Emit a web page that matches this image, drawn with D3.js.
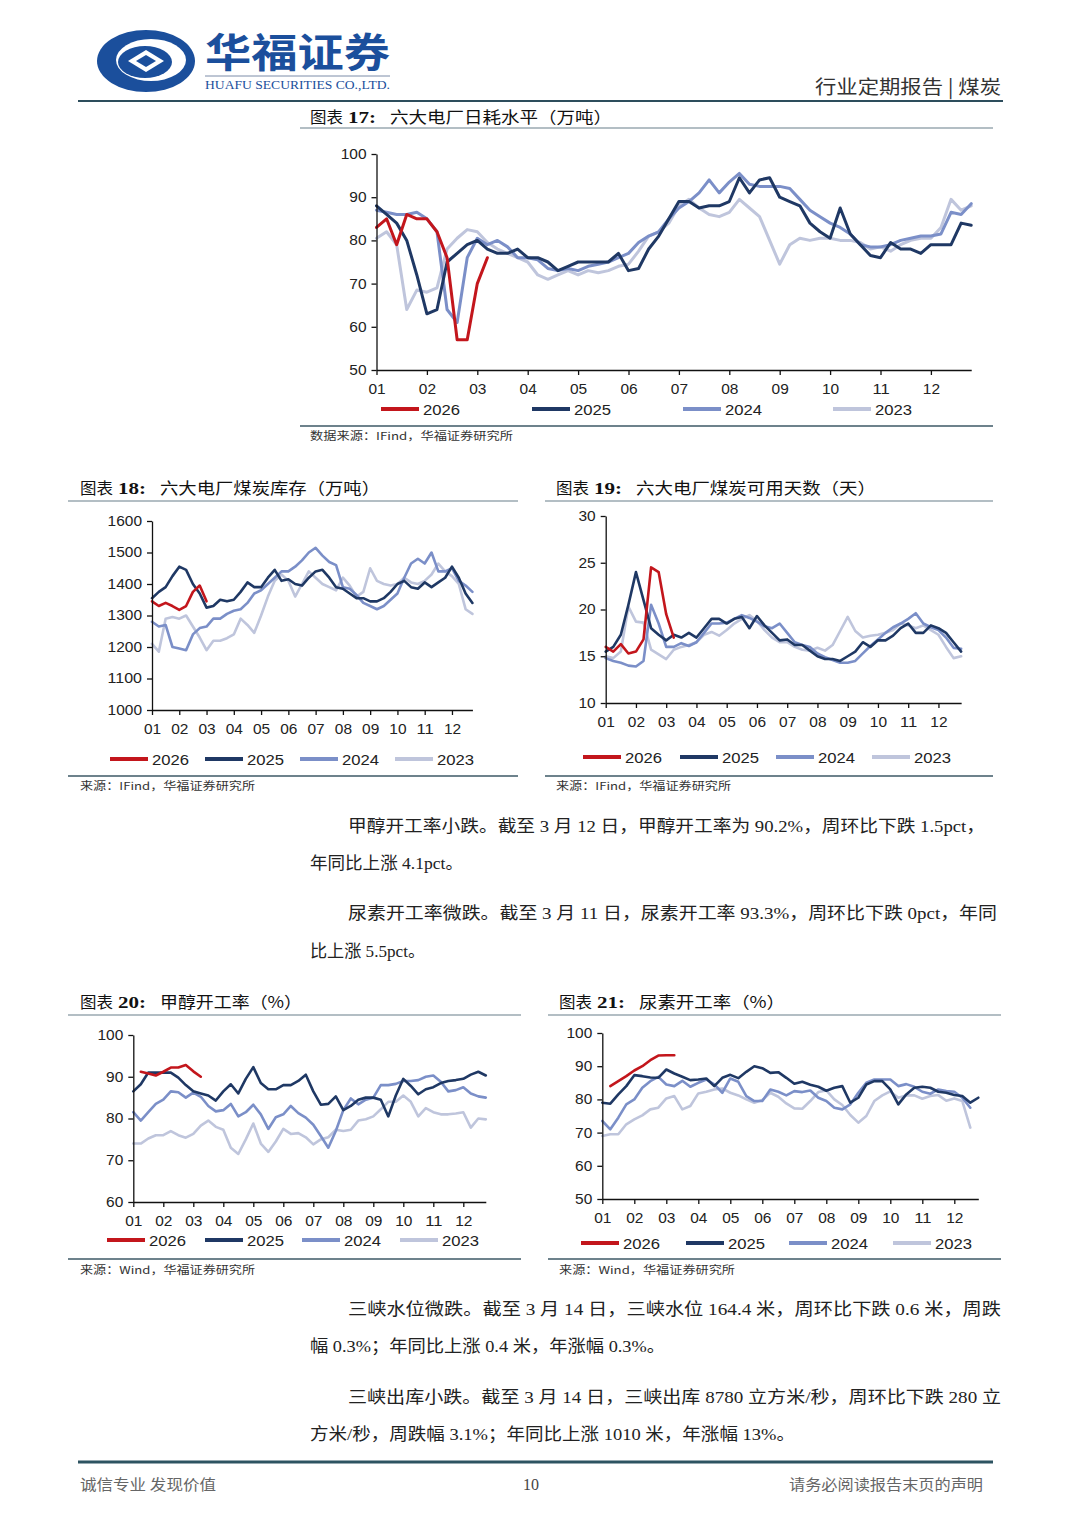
<!DOCTYPE html>
<html>
<head>
<meta charset="utf-8" />
<script src="https://cdn.jsdelivr.net/npm/d3@7"></script>
<style>
  body { margin: 0; background: #fff; }
  svg { display: block; }
</style>
<title>煤炭 行业定期报告</title>
</head>
<body>
<svg id="page" width="1080" height="1527"></svg>
<script>
// ---- data ----
const years = ["2026", "2025", "2024", "2023"];
const monthLabels = ["01", "02", "03", "04", "05", "06", "07", "08", "09", "10", "11", "12"];

// 图表17 六大电厂日耗 (万吨), one value every 0.2 month
const consumeTicks = [50, 60, 70, 80, 90, 100];
const consume2026 = [83, 85, 79, 86, 85, 85, 82, 76, 57, 57, 70, 76];
const consume2025 = [88, 86, 84, 80, 72, 63, 64, 75, 77, 79, 80, 78, 77, 77, 78, 76, 76, 75, 73, 74,
  75, 75, 75, 75, 77, 73, 73.5, 78, 81, 85, 89, 89, 87.5, 88, 88, 89, 94.5, 91, 94, 94.5,
  90, 89, 88, 84, 82, 80.5, 87.5, 81.5, 79, 76.5, 76, 79.5, 78, 78, 77, 79, 79, 79, 84, 83.5];
const consume2024 = [87, 86.5, 86, 86, 86.5, 85, 82, 64, 61, 76, 80.5, 79, 80, 78.5, 76, 76, 75.5, 73.5, 73, 73.5,
  73, 74, 74.5, 75, 76, 77, 79.5, 81, 82, 85, 87.5, 89, 91, 94, 91, 93.5, 95.5, 93, 92.5, 92.5,
  92.5, 92, 89.5, 87, 85.5, 84, 83, 81.5, 79, 78.5, 78.5, 79, 80, 80.5, 81, 81, 81.5, 86.5, 86, 88.5];
const consume2023 = [80.5, 82, 79, 64, 68.5, 68, 69, 78, 80.5, 82.5, 82, 79.5, 78, 77, 76, 75, 72, 71, 72, 73,
  72, 73, 72.5, 73, 74, 74.5, 77.5, 81, 82, 84, 88, 89.5, 87.5, 86, 85.5, 86.5, 89.5, 87.5, 85.5, 80,
  74.5, 79, 80.5, 80, 80.5, 80.5, 80, 80, 79.5, 78, 78.5, 77.5, 79, 80, 80.5, 80.5, 83, 89.5, 87, 88];

// 图表18 六大电厂煤炭库存 (万吨), one value every 0.25 month
const stockTicks = [1000, 1100, 1200, 1300, 1400, 1500, 1600];
const stock2026 = [1345, 1330, 1340, 1330, 1318, 1330, 1375, 1395, 1345];
const stock2025 = [1355, 1375, 1390, 1425, 1455, 1445, 1400, 1370, 1325, 1330, 1350, 1345, 1350, 1375, 1405, 1390,
  1390, 1420, 1445, 1410, 1415, 1400, 1395, 1420, 1440, 1445, 1420, 1390, 1385, 1370, 1355, 1355,
  1345, 1345, 1355, 1375, 1400, 1410, 1390, 1385, 1405, 1390, 1405, 1420, 1455, 1420, 1370, 1340];
const stock2024 = [1280, 1265, 1270, 1200, 1195, 1190, 1240, 1260, 1265, 1290, 1290, 1305, 1315, 1320, 1340, 1370,
  1380, 1400, 1420, 1440, 1440, 1455, 1475, 1500, 1515, 1490, 1470, 1460, 1390, 1385, 1365, 1340,
  1330, 1320, 1330, 1350, 1370, 1420, 1465, 1480, 1465, 1500, 1440, 1440, 1450, 1410, 1395, 1375];
const stock2023 = [1210, 1185, 1290, 1295, 1290, 1300, 1265, 1230, 1190, 1220, 1220, 1228, 1240, 1290, 1270, 1245,
  1300, 1360, 1410, 1430, 1410, 1360, 1400, 1440, 1420, 1400, 1390, 1380, 1420, 1395, 1360, 1375,
  1450, 1410, 1400, 1395, 1400, 1420, 1405, 1400, 1410, 1430, 1465, 1440, 1425, 1400, 1320, 1305];

// 图表19 六大电厂煤炭可用天数 (天), every 0.25 month
const daysTicks = [10, 15, 20, 25, 30];
const days2026 = [16, 15.5, 16.3, 15.3, 15.5, 16.8, 24.5, 24, 19.5, 17];
const days2025 = [15.5, 16, 17.3, 20.5, 24, 21, 18, 17.3, 16.7, 17.3, 17, 17.5, 17, 18, 19, 19,
  18.5, 19, 19.2, 18, 19.3, 18.3, 17.5, 16.7, 16.8, 16.2, 16.2, 15.6, 15, 14.7, 14.7, 14.5,
  15, 15.5, 16.5, 16, 16.7, 16.7, 17.2, 18, 18.5, 17.5, 17.5, 18.3, 18, 17.5, 16.5, 15.5];
const days2024 = [14.8, 14.5, 14.3, 14, 13.9, 14.5, 20.5, 18.5, 16, 16, 16.4, 16.1, 16.5, 17.5, 18.5, 18.5,
  18.6, 19, 19.4, 19.1, 18.7, 18.2, 18, 18.5, 17.5, 16.5, 16.2, 16, 15.3, 14.9, 14.6, 14.3,
  14.3, 14.5, 15.3, 16.1, 16.8, 17.5, 18.1, 18.5, 19, 19.6, 18.5, 18.1, 17.8, 17, 15.9, 15.8];
const days2023 = [15, 14.8, 15.5, 20.3, 18.7, 18.6, 15.7, 15.2, 14.7, 15.7, 16, 16.2, 16.5, 17.3, 17.6, 17.2,
  17.8, 18.5, 19, 19.4, 18.8, 17.8, 17, 16.5, 16.5, 16, 15.7, 15.6, 15.9, 15.6, 16.2, 17.7,
  19.2, 17.7, 17, 17.2, 17.3, 17.5, 17.8, 18.5, 18.3, 18, 18.3, 17.8, 17.3, 16, 14.8, 15];

// 图表20 甲醇开工率 (%), weekly
const rateTicks20 = [60, 70, 80, 90, 100];
const methanol2026 = [null, 91.2, 90.8, 90.3, 91.2, 92.2, 92.2, 92.8, 91.3, 90];
const methanol2025 = [86.5, 88.2, 91, 91, 91, 91, 89.8, 88, 86.5, 86, 85.5, 84.3, 86.5, 88.2, 86, 89.5,
  92.3, 88.5, 87, 87, 88, 88, 89, 90.5, 86.5, 83.3, 83.5, 85.3, 82, 83, 84.5, 85,
  85, 84.5, 80.5, 85.5, 89.5, 87.8, 85.8, 87, 87.5, 88.5, 89, 89.2, 89.5, 90.5, 91.2, 90.3];
const methanol2024 = [81.5, 79.5, 81.5, 83.5, 84.5, 86.5, 86.3, 85, 86.2, 85.2, 83, 81.7, 82, 83.5, 80.5, 81.5,
  83.3, 81, 77.5, 80.3, 81, 83, 81.3, 80.2, 78.5, 75.8, 73, 77, 82, 84.8, 83.4, 84.5,
  85, 88, 88, 88.3, 89, 89, 89.2, 90, 90.3, 88.8, 86.5, 86.8, 87.5, 86, 85.3, 85];
const methanol2023 = [74, 74, 75.2, 76, 76, 77, 76, 75.4, 76.3, 78.3, 79.5, 78, 77.3, 73, 71.5, 75,
  78.8, 74, 72, 74.5, 77.5, 76.3, 76.5, 75.5, 73.8, 75, 75.5, 77.3, 77, 77.3, 79.5, 79.8,
  80.5, 82.2, 84, 84, 85.5, 84, 80.5, 82.5, 81.5, 81, 81, 81.2, 81.5, 77.8, 80, 79.8];

// 图表21 尿素开工率 (%), weekly
const rateTicks21 = [50, 60, 70, 80, 90, 100];
const urea2026 = [null, 84, 85.5, 87, 88.7, 90, 91.8, 93.2, 93.3, 93.3];
const urea2025 = [79, 78.7, 81.5, 84, 87.3, 87, 86.6, 86.5, 89, 87.8, 86.8, 85.8, 86, 86.3, 84, 86.5,
  87.4, 86.4, 88.3, 90, 89.4, 88, 88.2, 86.5, 84.7, 85.3, 84.4, 83.8, 82.6, 83.5, 84, 79,
  80.5, 84.5, 85.5, 85.5, 83, 78.5, 81.5, 83.5, 83.8, 83.5, 82.3, 82, 81.3, 81, 79, 80.5];
const urea2024 = [73.5, 71, 74.5, 78.5, 80, 83.5, 85.5, 86.8, 84.5, 84, 85.6, 83.8, 85, 86, 84.5, 82,
  86.3, 85.3, 81, 79.5, 79.5, 83, 82.3, 81.2, 82.5, 82.2, 82.7, 80.5, 79.5, 77.5, 77, 78.5,
  82, 85, 86, 86, 86, 84, 84.6, 83.8, 82.3, 81.7, 83, 82.5, 82.3, 80.5, 77.5];
const urea2023 = [69, 69.5, 69.5, 72.5, 74, 75.2, 77, 77.5, 80.3, 81, 77, 78, 81.8, 82.3, 83, 83.3,
  82, 81.2, 80, 79, 79.8, 82, 80.8, 78.8, 77.3, 77.2, 79.5, 82.2, 82.7, 80, 78.3, 75.3,
  73, 75, 79.5, 81.2, 82.4, 80.5, 81.2, 81.2, 80.2, 81, 81.3, 79.6, 80.3, 79.5, 71.5];

// ---- style ----
const colors = { "2026": "#c3161c", "2025": "#1f3864", "2024": "#7b8fc8", "2023": "#bfc5dc" };
const BLUE = "#1b4f9c";
const CJK = "'Noto Sans CJK SC', sans-serif";
const SERIF = "'Liberation Serif', 'Noto Sans CJK SC', serif";
const SANS = "'Liberation Sans', Arial, sans-serif";

const svg = d3.select("#page");

function label(g, x, y, str, o = {}) {
  const t = g.append("text")
    .attr("x", x).attr("y", y).text(str)
    .attr("font-family", o.family || CJK)
    .attr("font-size", o.size || 16)
    .attr("fill", o.fill || "#222");
  if (o.weight) t.attr("font-weight", o.weight);
  if (o.anchor) t.attr("text-anchor", o.anchor);
  if (o.width) t.attr("textLength", o.width).attr("lengthAdjust", "spacingAndGlyphs");
  return t;
}

function rule(x1, x2, y, color, w) {
  svg.append("line").attr("x1", x1).attr("x2", x2).attr("y1", y).attr("y2", y)
    .attr("stroke", color).attr("stroke-width", w);
}

// ---- header ----
const logo = svg.append("g");
logo.append("ellipse").attr("cx", 146).attr("cy", 61).attr("rx", 49).attr("ry", 31).attr("fill", BLUE);
logo.append("ellipse").attr("cx", 151).attr("cy", 60).attr("rx", 35).attr("ry", 21).attr("fill", "#fff");
logo.append("ellipse").attr("cx", 145).attr("cy", 62).attr("rx", 27).attr("ry", 16).attr("fill", BLUE);
logo.append("path").attr("d", "M128,61 L146,50 L164,61 L146,72 Z").attr("fill", "#fff");
logo.append("path").attr("d", "M136,61 L146,55 L156,61 L146,67 Z").attr("fill", BLUE);
label(svg, 205, 67, "华福证券", { size: 40, weight: 700, fill: BLUE, width: 185 });
rule(205, 390, 76, "#7d8ca8", 1);
label(svg, 205, 89, "HUAFU SECURITIES CO.,LTD.", { family: SERIF, size: 12.5, fill: BLUE, width: 185 });
label(svg, 1001, 94, "行业定期报告 | 煤炭", { size: 19, fill: "#333", anchor: "end", width: 186 });
rule(78, 1003, 101, "#2d4d5c", 2);

// ---- chart frames (titles, rules, sources) ----
const frames = [
  { no: "17", name: "六大电厂日耗水平（万吨）", x: 310, nameX: 390, nameW: 222, ty: 123, x1: 300, x2: 993, top: 128, bottom: 426, src: "数据来源：IFind，华福证券研究所", srcX: 310, srcW: 203, srcY: 440 },
  { no: "18", name: "六大电厂煤炭库存（万吨）", x: 80, nameX: 160, nameW: 220, ty: 494, x1: 68, x2: 518, top: 501, bottom: 776, src: "来源：IFind，华福证券研究所", srcX: 80, srcW: 175, srcY: 790 },
  { no: "19", name: "六大电厂煤炭可用天数（天）", x: 556, nameX: 636, nameW: 240, ty: 494, x1: 545, x2: 993, top: 501, bottom: 776, src: "来源：IFind，华福证券研究所", srcX: 556, srcW: 175, srcY: 790 },
  { no: "20", name: "甲醇开工率（%）", x: 80, nameX: 160, nameW: 142, ty: 1008, x1: 68, x2: 521, top: 1015, bottom: 1259, src: "来源：Wind，华福证券研究所", srcX: 80, srcW: 175, srcY: 1274 },
  { no: "21", name: "尿素开工率（%）", x: 559, nameX: 639, nameW: 146, ty: 1008, x1: 548, x2: 1001, top: 1015, bottom: 1259, src: "来源：Wind，华福证券研究所", srcX: 559, srcW: 176, srcY: 1274 }
];

frames.forEach(f => {
  label(svg, f.x, f.ty, "图表", { size: 16, fill: "#111", width: 33 });
  label(svg, f.x + 38, f.ty, f.no + ":", { family: SERIF, size: 17, weight: 700, fill: "#111", width: 28 });
  label(svg, f.nameX, f.ty, f.name, { size: 16, fill: "#111", width: f.nameW });
  rule(f.x1, f.x2, f.top, "#9aa8b0", 1.5);
  rule(f.x1, f.x2, f.bottom, "#3d5866", 1.5);
  label(svg, f.srcX, f.srcY, f.src, { size: 11, fill: "#333", width: f.srcW });
});

// ---- line charts ----
const charts = [
  { series: { "2026": consume2026, "2025": consume2025, "2024": consume2024, "2023": consume2023 },
    step: 0.2, yTicks: consumeTicks, left: 376.5, monthPx: 50.4, xEnd: 11.8, top: 154, bottom: 370,
    lw: 3, legendY: 409, legendX: [381, 532, 683, 833] },
  { series: { "2026": stock2026, "2025": stock2025, "2024": stock2024, "2023": stock2023 },
    step: 0.25, yTicks: stockTicks, left: 152, monthPx: 27.27, xEnd: 11.75, top: 521, bottom: 710,
    lw: 2.6, legendY: 759, legendX: [110, 205, 300, 395] },
  { series: { "2026": days2026, "2025": days2025, "2024": days2024, "2023": days2023 },
    step: 0.25, yTicks: daysTicks, left: 605.7, monthPx: 30.25, xEnd: 11.75, top: 516, bottom: 703,
    lw: 2.6, legendY: 757, legendX: [583, 680, 776, 872] },
  { series: { "2026": methanol2026, "2025": methanol2025, "2024": methanol2024, "2023": methanol2023 },
    step: 0.25, yTicks: rateTicks20, left: 133.3, monthPx: 30, xEnd: 11.75, top: 1035, bottom: 1202,
    lw: 2.6, legendY: 1240, legendX: [107, 205, 302, 400] },
  { series: { "2026": urea2026, "2025": urea2025, "2024": urea2024, "2023": urea2023 },
    step: 0.25, yTicks: rateTicks21, left: 602.3, monthPx: 32, xEnd: 11.75, top: 1033, bottom: 1199,
    lw: 2.6, legendY: 1243, legendX: [581, 686, 789, 893] }
];

function drawChart(c) {
  const g = svg.append("g");
  const x = d3.scaleLinear().domain([0, c.xEnd]).range([c.left, c.left + c.xEnd * c.monthPx]);
  const y = d3.scaleLinear().domain(d3.extent(c.yTicks)).range([c.bottom, c.top]);

  const line = d3.line()
    .defined(d => d[1] != null)
    .x(d => x(d[0]))
    .y(d => y(d[1]));

  // oldest year drawn first, 2026 on top
  years.slice().reverse().forEach(yr => {
    const pts = c.series[yr].map((v, i) => [i * c.step, v]);
    g.append("path")
      .attr("d", line(pts))
      .attr("fill", "none")
      .attr("stroke", colors[yr])
      .attr("stroke-width", c.lw)
      .attr("stroke-linejoin", "round")
      .attr("stroke-linecap", "round");
  });

  const xAxis = g.append("g")
    .attr("transform", `translate(0,${c.bottom})`)
    .call(d3.axisBottom(x).tickValues(d3.range(12)).tickFormat(i => monthLabels[i])
      .tickSize(5).tickSizeOuter(0).tickPadding(9));
  const yAxis = g.append("g")
    .attr("transform", `translate(${c.left},0)`)
    .call(d3.axisLeft(y).tickValues(c.yTicks).tickFormat(d3.format("d"))
      .tickSize(5).tickSizeOuter(0).tickPadding(5));

  [xAxis, yAxis].forEach(a => {
    a.select(".domain").attr("stroke", "#111").attr("stroke-width", 1.3);
    a.selectAll(".tick line").attr("stroke", "#111").attr("stroke-width", 1.3);
    a.selectAll(".tick text")
      .attr("font-family", SANS).attr("font-size", 14).attr("fill", "#222")
      .attr("textLength", function () { return this.textContent.length * 8.6; })
      .attr("lengthAdjust", "spacingAndGlyphs");
  });

  // legend
  years.forEach((yr, i) => {
    const lx = c.legendX[i];
    g.append("line").attr("x1", lx).attr("x2", lx + 38)
      .attr("y1", c.legendY).attr("y2", c.legendY)
      .attr("stroke", colors[yr]).attr("stroke-width", 4);
    label(g, lx + 42, c.legendY + 5.5, yr, { family: SANS, size: 15.5, fill: "#222", width: 37 });
  });
}

charts.forEach(drawChart);

// ---- body text ----
const paragraphs = [
  { x: 348, y: 832, w: 637, s: "甲醇开工率小跌。截至 3 月 12 日，甲醇开工率为 90.2%，周环比下跌 1.5pct，" },
  { x: 310, y: 869, w: 153, s: "年同比上涨 4.1pct。" },
  { x: 348, y: 919, w: 649, s: "尿素开工率微跌。截至 3 月 11 日，尿素开工率 93.3%，周环比下跌 0pct，年同" },
  { x: 310, y: 957, w: 115, s: "比上涨 5.5pct。" },
  { x: 348, y: 1315, w: 653, s: "三峡水位微跌。截至 3 月 14 日，三峡水位 164.4 米，周环比下跌 0.6 米，周跌" },
  { x: 310, y: 1352, w: 355, s: "幅 0.3%；年同比上涨 0.4 米，年涨幅 0.3%。" },
  { x: 348, y: 1403, w: 653, s: "三峡出库小跌。截至 3 月 14 日，三峡出库 8780 立方米/秒，周环比下跌 280 立" },
  { x: 310, y: 1440, w: 485, s: "方米/秒，周跌幅 3.1%；年同比上涨 1010 米，年涨幅 13%。" }
];
paragraphs.forEach(p => label(svg, p.x, p.y, p.s, { family: SERIF, size: 17.5, fill: "#222", width: p.w }));

// ---- footer ----
rule(78, 993, 1462, "#2d5361", 3);
label(svg, 80, 1490, "诚信专业  发现价值", { size: 15, fill: "#666", width: 136 });
label(svg, 531, 1490, "10", { family: SERIF, size: 16, fill: "#444", anchor: "middle" });
label(svg, 983, 1490, "请务必阅读报告末页的声明", { size: 15, fill: "#666", anchor: "end", width: 194 });
</script>
</body>
</html>
